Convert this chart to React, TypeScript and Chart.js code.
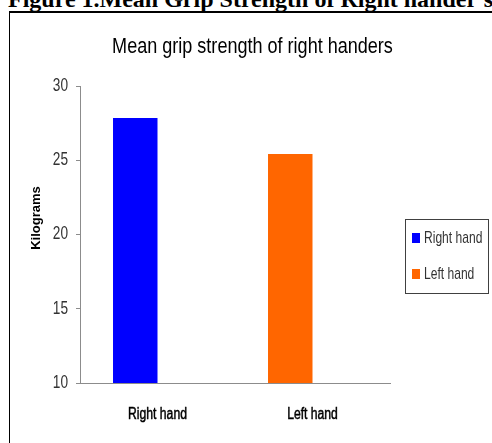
import React, { useEffect, useRef } from 'react';
import { Chart, registerables } from 'chart.js';

Chart.register(...registerables);

const figureCaption = "Figure 1.Mean Grip Strength of Right hander's";
const chartTitle = 'Mean grip strength of right handers';
const axisTitle = 'Kilograms';
const categories = ['Right hand', 'Left hand'];
const seriesNames = ['Right hand', 'Left hand'];
const rightHandValues = [27.85, null];
const leftHandValues = [null, 25.42];
const spacerValues = [null, null];
const seriesColors = ['#0000FF', '#FF6600'];
const yMin = 10;
const yMax = 30;
const yStep = 5;

const SANS = '"Liberation Sans", Arial, sans-serif';

function narrowText(
  ctx: CanvasRenderingContext2D,
  text: string,
  x: number,
  y: number,
  size: number,
  sx: number,
  color: string,
  align: CanvasTextAlign,
  baseline: CanvasTextBaseline,
  embolden = 0,
) {
  ctx.save();
  ctx.translate(x, y);
  ctx.scale(sx, 1);
  ctx.font = `${size}px ${SANS}`;
  ctx.fillStyle = color;
  ctx.textAlign = align;
  ctx.textBaseline = baseline;
  ctx.fillText(text, 0, 0);
  if (embolden > 0) {
    ctx.strokeStyle = color;
    ctx.lineWidth = embolden;
    ctx.strokeText(text, 0, 0);
  }
  ctx.restore();
}

const decorPlugin = {
  id: 'decor',
  afterDraw(chart: any) {
    const ctx = chart.ctx as CanvasRenderingContext2D;
    const area = chart.chartArea;

    // chart title
    narrowText(ctx, chartTitle, 252.5, 53, 22, 0.82, '#000', 'center', 'alphabetic');

    // y tick labels (from the library's y scale)
    const ys = chart.scales.y;
    ys.ticks.forEach((t: any) => {
      const py = ys.getPixelForValue(t.value);
      narrowText(ctx, String(t.label), area.left - 12, py, 18, 0.76, '#333', 'right', 'middle');
    });

    // x tick labels (from the library's x scale)
    const xs = chart.scales.x;
    xs.ticks.forEach((t: any, i: number) => {
      const px = xs.getPixelForTick(i);
      narrowText(ctx, String(t.label), px, area.bottom + 36, 16, 0.76, '#000', 'center', 'alphabetic', 0.5);
    });

    // y axis title
    ctx.save();
    ctx.translate(36, 218);
    ctx.rotate(-Math.PI / 2);
    ctx.fillStyle = '#000';
    ctx.font = `bold 13px ${SANS}`;
    ctx.textAlign = 'center';
    ctx.textBaseline = 'middle';
    ctx.fillText(axisTitle, 0, 0);
    ctx.restore();

    // legend
    ctx.save();
    const lx = area.right + 15;
    const ly = 219;
    const lw = 83;
    const lh = 74;
    ctx.fillStyle = '#fff';
    ctx.fillRect(lx, ly, lw, lh);
    ctx.strokeStyle = '#404040';
    ctx.lineWidth = 1;
    ctx.strokeRect(lx + 0.5, ly + 0.5, lw, lh);
    ctx.restore();
    seriesNames.forEach((name, i) => {
      const cy = ly + 19 + i * 36;
      ctx.fillStyle = seriesColors[i];
      ctx.fillRect(lx + 7, cy - 5, 8, 10);
      narrowText(ctx, name, lx + 19, cy, 17, 0.71, '#333', 'left', 'middle');
    });
  },
};

export default function App() {
  const canvasRef = useRef<HTMLCanvasElement | null>(null);

  useEffect(() => {
    if (!canvasRef.current) return;
    const chart = new Chart(canvasRef.current, {
      type: 'bar',
      data: {
        labels: categories,
        datasets: [
          { label: seriesNames[0], data: rightHandValues, backgroundColor: seriesColors[0], stack: 'a' },
          { label: seriesNames[1], data: leftHandValues, backgroundColor: seriesColors[1], stack: 'a' },
          { label: 'spacer', data: spacerValues, backgroundColor: 'transparent', stack: 'b' },
        ],
      },
      options: {
        responsive: false,
        animation: false,
        devicePixelRatio: 1,
        categoryPercentage: 0.574,
        barPercentage: 1,
        layout: { padding: { left: 0, top: 86, right: 102, bottom: 0 } },
        plugins: {
          legend: { display: false },
          title: { display: false },
          tooltip: { enabled: false },
        },
        scales: {
          x: {
            stacked: true,
            grid: { display: true, drawOnChartArea: false, drawTicks: false, color: 'transparent' },
            border: { display: true, color: '#8c8c8c', width: 1 },
            ticks: { display: false },
            afterFit: (s: any) => {
              s.height = 60;
            },
          },
          y: {
            stacked: true,
            min: yMin,
            max: yMax,
            grid: { drawOnChartArea: false, drawTicks: true, tickLength: 4, color: '#8c8c8c' },
            border: { display: true, color: '#8c8c8c', width: 1 },
            ticks: { stepSize: yStep, display: false },
            afterFit: (s: any) => {
              s.width = 80;
            },
          },
        },
      },
      plugins: [decorPlugin],
    });
    return () => chart.destroy();
  }, []);

  return (
    <div
      style={{
        position: 'fixed',
        left: 0,
        top: 0,
        width: 492,
        height: 443,
        overflow: 'hidden',
        background: '#fff',
      }}
    >
      <div
        style={{
          position: 'absolute',
          left: 9,
          top: 11,
          width: 600,
          height: 600,
          borderLeft: '1px solid #000',
          borderTop: '2px solid #000',
        }}
      />
      <div
        style={{
          position: 'absolute',
          left: 8,
          top: -13,
          whiteSpace: 'nowrap',
          fontFamily: '"Liberation Serif", serif',
          fontWeight: 'bold',
          fontSize: 24,
          lineHeight: '24px',
          color: '#000',
        }}
      >
        {figureCaption}
      </div>
      <canvas
        ref={canvasRef}
        width={492}
        height={443}
        style={{ position: 'absolute', left: 0, top: 0, width: 492, height: 443 }}
      />
    </div>
  );
}
